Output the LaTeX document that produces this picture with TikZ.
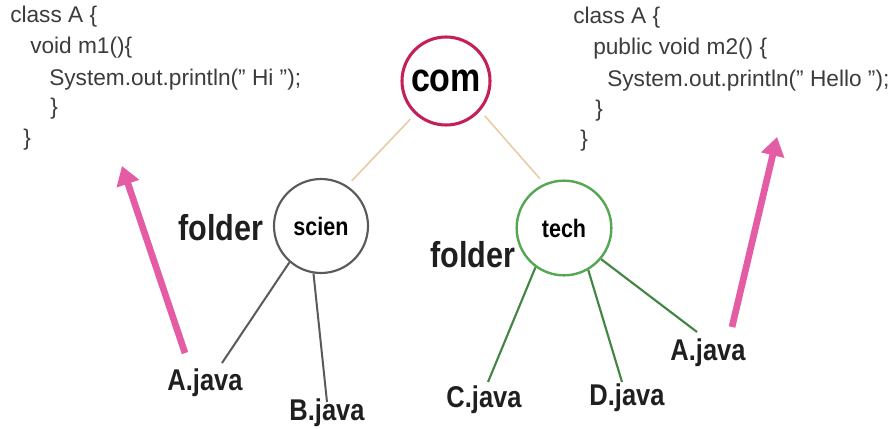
\documentclass[tikz,border=0pt]{standalone}
\usepackage{fontspec}
\setmainfont{Liberation Sans}
\newfontfamily\lbl{Liberation Sans Bold}[FakeStretch=0.85]
\usetikzlibrary{arrows.meta}
\definecolor{comred}{RGB}{196,32,84}
\definecolor{sciengray}{RGB}{90,90,90}
\definecolor{techgreen}{RGB}{84,168,84}
\definecolor{tanline}{RGB}{232,204,168}
\definecolor{arrowpink}{RGB}{228,92,164}
\definecolor{codegray}{RGB}{60,60,60}
\tikzset{
  code/.style={anchor=base west, inner sep=0pt, font=\fontsize{17pt}{20pt}\selectfont, text=codegray},
  circ/.style={circle, inner sep=0pt, fill=white},
  lab/.style={inner sep=0pt, text=black!88},
  javalab/.style={lab, font=\lbl\fontsize{22.5pt}{26pt}\selectfont},
  folderlab/.style={lab, font=\lbl\fontsize{27pt}{30pt}\selectfont},
  graylink/.style={draw=sciengray, line width=1.5pt},
  greenlink/.style={draw=techgreen!80!black, line width=1.6pt},
  tanlink/.style={draw=tanline, line width=1.2pt, shorten <=5pt, shorten >=5pt},
  pinkarrow/.style={draw=arrowpink, line width=5pt, -{Triangle[length=14pt,width=17pt]}}
}
\begin{document}
\begin{tikzpicture}[x=0.75pt, y=-0.75pt]
\path[use as bounding box, fill=white] (0,0) rectangle (891,428);

% left code
\node[code] (l1) at (10,23) {class A \{};
\node[code] (l2) at (30,54) {void m1()\{};
\node[code] (l3) at (49,85) {System.out.println(" Hi ");};
\node[code] (l4) at (50,114) {\}};
\node[code] (l5) at (23,145) {\}};

% right code
\node[code] (r1) at (573,24) {class A \{};
\node[code] (r2) at (593,55) {public void m2() \{};
\node[code] (r3) at (607,86) {System.out.println(" Hello ");};
\node[code] (r4) at (595,116) {\}};
\node[code] (r5) at (580,146) {\}};

% circles
\node[circ, draw=comred, line width=2.3pt, minimum size=66pt,
      font=\lbl\fontsize{30pt}{34pt}\selectfont] (com) at (446,81) {com};
\node[circ, draw=sciengray, line width=1.6pt, minimum size=70.5pt,
      font=\lbl\fontsize{19pt}{22pt}\selectfont] (scien) at (321,226) {scien};
\node[circ, draw=techgreen, line width=1.8pt, minimum size=71pt,
      font=\lbl\fontsize{19pt}{22pt}\selectfont] (tech) at (564,228) {tech};

\node[folderlab] (f1) at (221,228) {folder};
\node[folderlab] (f2) at (473,255) {folder};

% file labels
\node[javalab] (aj1) at (205,383) {A.java};
\node[javalab] (bj) at (327,413) {B.java};
\node[javalab] (cj) at (484,400) {C.java};
\node[javalab] (dj) at (627,398) {D.java};
\node[javalab] (aj2) at (708,353) {A.java};

% line end coordinates
\coordinate (aj1e) at (222,363);
\coordinate (bje) at (327,402);
\coordinate (cje) at (488,382);
\coordinate (dje) at (622,382);
\coordinate (aj2e) at (697,332);

% tree links
\path[tanlink] (com.227) -- (scien.57);
\path[tanlink] (com.319) -- (tech.114);
\path[graylink] (scien.229) -- (aj1e);
\path[graylink] (scien.261) -- (bje);
\path[greenlink] (tech.234) -- (cje);
\path[greenlink] (tech.300) -- (dje);
\path[greenlink] (tech.320) -- (aj2e);

% pink arrows
\coordinate (la0) at (185,353);
\coordinate (la1) at (122,166);
\coordinate (ra0) at (732,327);
\coordinate (ra1) at (777,137);
\path[pinkarrow] (la0) -- (la1);
\path[pinkarrow] (ra0) -- (ra1);
\end{tikzpicture}
\end{document}
